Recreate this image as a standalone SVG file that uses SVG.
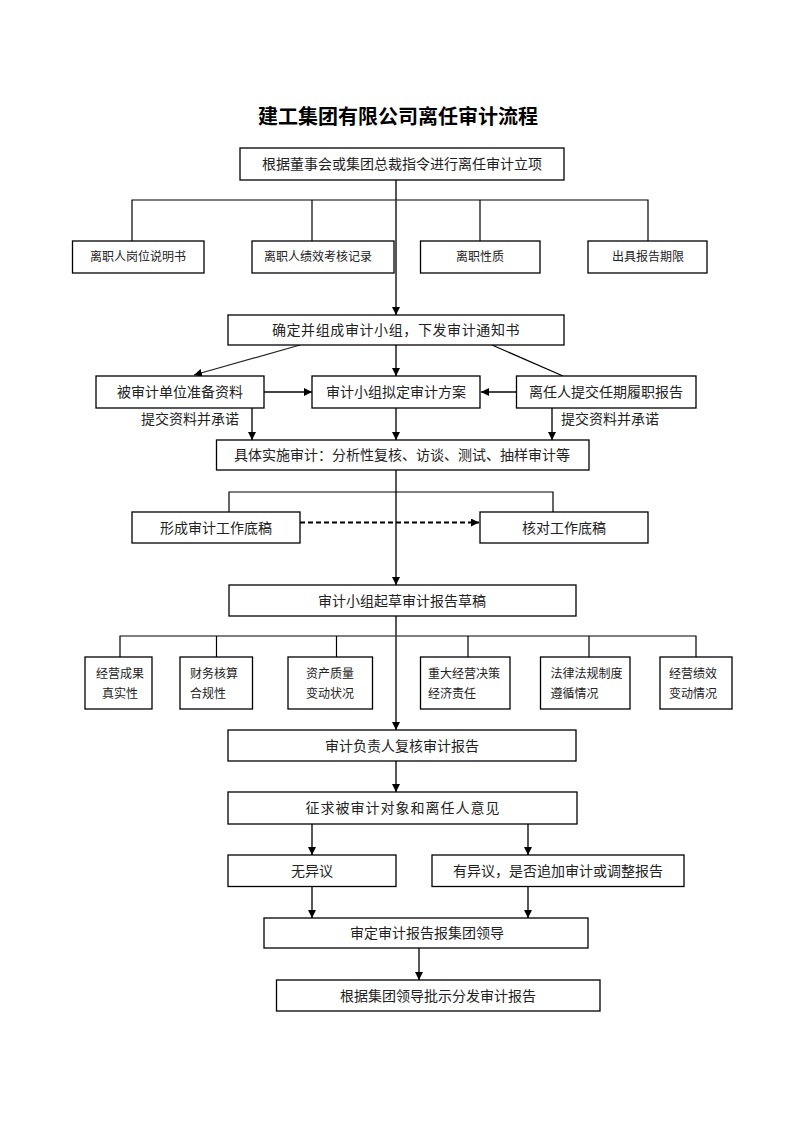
<svg xmlns="http://www.w3.org/2000/svg" width="793" height="1122" viewBox="0 0 793 1122">
<style>
.bg{fill:#fff}
.box{fill:#fff;stroke:#000;stroke-width:1.3}
.t{font-family:"Noto Sans CJK SC","Liberation Serif",serif;font-size:14px;fill:#222;text-anchor:middle}
.s{font-family:"Noto Sans CJK SC","Liberation Serif",serif;font-size:12px;fill:#222}
.sm{text-anchor:middle}
.title{font-family:"Noto Sans CJK SC","Liberation Sans",sans-serif;font-size:20px;font-weight:bold;fill:#000;text-anchor:middle}
.ln{fill:none;stroke:#000;stroke-width:1.2}
.ar{fill:none;stroke:#444;stroke-width:1.8;marker-end:url(#ah)}
.ar1{fill:none;stroke:#222;stroke-width:1.2;marker-end:url(#ah)}
.da{fill:none;stroke:#000;stroke-width:1.8;stroke-dasharray:5 3;marker-end:url(#ah)}
.main{fill:none;stroke:#555;stroke-width:2}
</style>
<defs>
<marker id="ah" markerUnits="userSpaceOnUse" markerWidth="9" markerHeight="9" refX="8" refY="4" orient="auto">
<path d="M0,0 L8,4 L0,8 z" fill="#000"/>
</marker>
</defs>
<rect class="bg" x="0" y="0" width="793" height="1122"/>
<text class="title" x="398" y="124">建工集团有限公司离任审计流程</text>

<g id="connectors">
<path class="main" d="M396,180 V200"/>
<path class="ln" d="M132,241 V200 H648 V241 M312,200 V241 M480,200 V241"/>
<path class="ar" d="M396,200 V315"/>
<path class="ar1" d="M300,345 L194,375"/>
<path class="ln" d="M492,345 L563,376"/>
<path class="ar" d="M396,345 V376"/>
<path class="ar" d="M264,392 H312"/>
<path class="ar" d="M516,392 H481"/>
<path class="ar" d="M252,408 V440"/>
<path class="ar" d="M396,408 V440"/>
<path class="ar" d="M552,408 V440"/>
<path class="ar" d="M396,470 V585"/>
<path class="ln" d="M229,512 V492 H553 V512"/>
<path class="da" d="M300,522.5 H479"/>
<path class="ln" d="M120,657 V636 H696 V657 M216.5,636 V657 M336.5,636 V657 M468,636 V657 M589,636 V657"/>
<path class="ar" d="M396,616 V730"/>
<path class="ar" d="M396,761 V792"/>
<path class="ar" d="M312,824 V855"/>
<path class="ar" d="M528,824 V855"/>
<path class="ar" d="M312,886 V918"/>
<path class="ar" d="M528,886 V918"/>
<path class="ar" d="M419,948 V980"/>
</g>

<g id="n1"><rect class="box" x="240" y="148" width="324" height="32"/><text class="t" x="402" y="169">根据董事会或集团总裁指令进行离任审计立项</text></g>
<g id="n2"><rect class="box" x="72.5" y="241" width="131.5" height="32"/><text class="s sm" x="138" y="261">离职人岗位说明书</text></g>
<g id="n3"><rect class="box" x="252" y="241" width="142" height="32"/><text class="s sm" x="318" y="261">离职人绩效考核记录</text></g>
<g id="n4"><rect class="box" x="420.5" y="241" width="119.5" height="32"/><text class="s sm" x="480" y="261">离职性质</text></g>
<g id="n5"><rect class="box" x="588" y="241" width="119" height="32"/><text class="s sm" x="648" y="261">出具报告期限</text></g>
<g id="n6"><rect class="box" x="228" y="315" width="336" height="30"/><text class="t" x="396" y="335" letter-spacing="0.6">确定并组成审计小组，下发审计通知书</text></g>
<g id="n7"><rect class="box" x="96" y="376" width="168" height="32"/><text class="t" x="180" y="397">被审计单位准备资料</text></g>
<g id="n8"><rect class="box" x="312" y="376" width="168" height="32"/><text class="t" x="396" y="397">审计小组拟定审计方案</text></g>
<g id="n9"><rect class="box" x="516.5" y="376" width="179.5" height="32"/><text class="t" x="606" y="397">离任人提交任期履职报告</text></g>
<g id="l1"><text class="t" x="190" y="424">提交资料并承诺</text></g>
<g id="l2"><text class="t" x="610" y="424">提交资料并承诺</text></g>
<g id="n10"><rect class="box" x="216.5" y="440" width="372.5" height="30"/><text class="t" x="402" y="460">具体实施审计：分析性复核、访谈、测试、抽样审计等</text></g>
<g id="n11"><rect class="box" x="132" y="512" width="168" height="31"/><text class="t" x="216" y="532.5">形成审计工作底稿</text></g>
<g id="n12"><rect class="box" x="480" y="512" width="168" height="31"/><text class="t" x="564" y="532.5">核对工作底稿</text></g>
<g id="n13"><rect class="box" x="229" y="585" width="347" height="31"/><text class="t" x="402" y="605.5">审计小组起草审计报告草稿</text></g>
<g id="n14"><rect class="box" x="85" y="657" width="67" height="52"/><text class="s" x="96" y="678">经营成果</text><text class="s" x="102" y="698">真实性</text></g>
<g id="n15"><rect class="box" x="180" y="657" width="72.5" height="52"/><text class="s" x="190" y="678">财务核算</text><text class="s" x="190" y="698">合规性</text></g>
<g id="n16"><rect class="box" x="288" y="657" width="84.5" height="52"/><text class="s" x="306" y="678">资产质量</text><text class="s" x="306" y="698">变动状况</text></g>
<g id="n17"><rect class="box" x="420.5" y="657" width="89.5" height="52"/><text class="s" x="428" y="678">重大经营决策</text><text class="s" x="428" y="698">经济责任</text></g>
<g id="n18"><rect class="box" x="540.5" y="657" width="89.5" height="52"/><text class="s" x="550.5" y="678">法律法规制度</text><text class="s" x="550.5" y="698">遵循情况</text></g>
<g id="n19"><rect class="box" x="660" y="657" width="72" height="52"/><text class="s" x="669" y="678">经营绩效</text><text class="s" x="669" y="698">变动情况</text></g>
<g id="n20"><rect class="box" x="228" y="730" width="348" height="31"/><text class="t" x="402" y="750.5">审计负责人复核审计报告</text></g>
<g id="n21"><rect class="box" x="228" y="792" width="349" height="32"/><text class="t" x="403" y="813" letter-spacing="1">征求被审计对象和离任人意见</text></g>
<g id="n22"><rect class="box" x="228" y="855" width="168" height="31.5"/><text class="t" x="312" y="875.5">无异议</text></g>
<g id="n23"><rect class="box" x="432" y="855" width="252" height="31.5"/><text class="t" x="558" y="875.5">有异议，是否追加审计或调整报告</text></g>
<g id="n24"><rect class="box" x="264" y="918" width="324" height="30"/><text class="t" x="427" y="938">审定审计报告报集团领导</text></g>
<g id="n25"><rect class="box" x="276.5" y="980" width="323.5" height="31"/><text class="t" x="438" y="1000.5">根据集团领导批示分发审计报告</text></g>
</svg>
